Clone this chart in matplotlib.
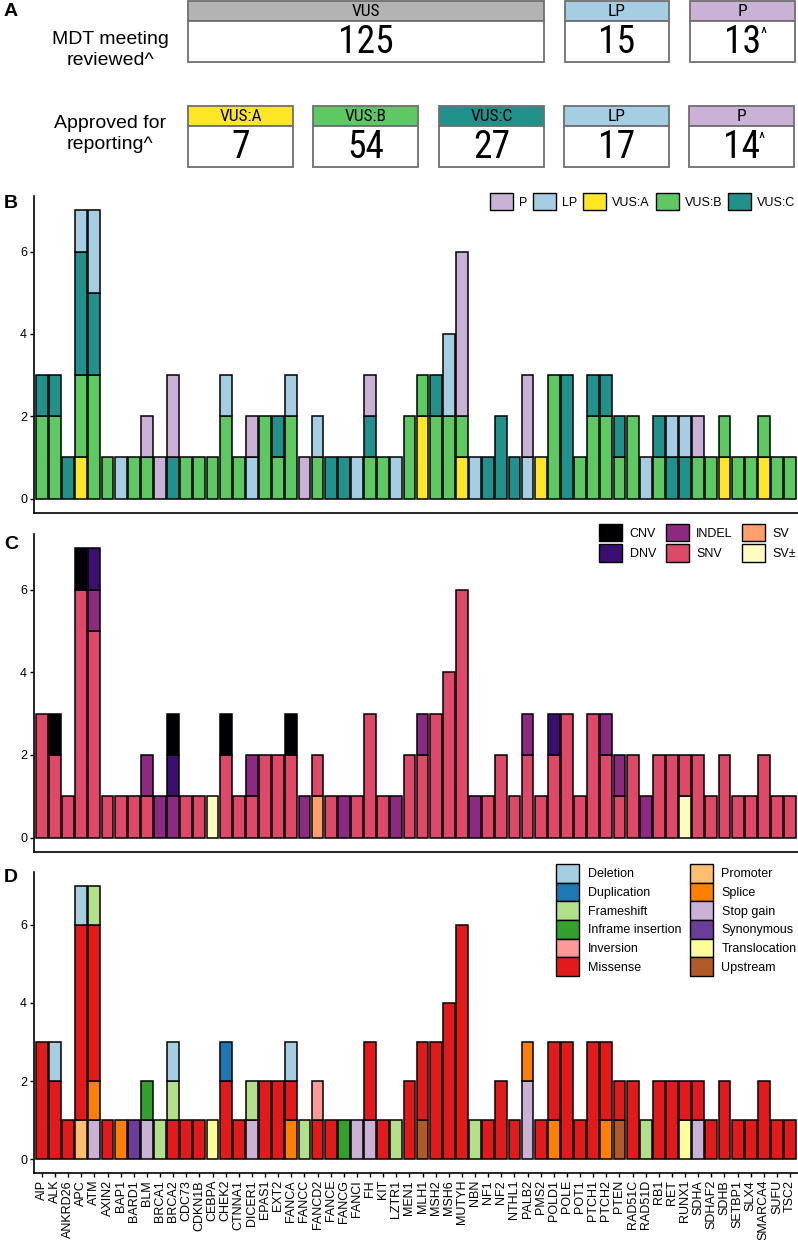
import matplotlib
matplotlib.use('Agg')
import matplotlib.pyplot as plt
from matplotlib.patches import Rectangle, Patch
from matplotlib import font_manager
import numpy as np

# ---------------- data ----------------
genes = ['AIP', 'ALK', 'ANKRD26', 'APC', 'ATM', 'AXIN2', 'BAP1', 'BARD1', 'BLM', 'BRCA1',
         'BRCA2', 'CDC73', 'CDKN1B', 'CEBPA', 'CHEK2', 'CTNNA1', 'DICER1', 'EPAS1', 'EXT2', 'FANCA',
         'FANCC', 'FANCD2', 'FANCE', 'FANCG', 'FANCI', 'FH', 'KIT', 'LZTR1', 'MEN1', 'MLH1',
         'MSH2', 'MSH6', 'MUTYH', 'NBN', 'NF1', 'NF2', 'NTHL1', 'PALB2', 'PMS2', 'POLD1',
         'POLE', 'POT1', 'PTCH1', 'PTCH2', 'PTEN', 'RAD51C', 'RAD51D', 'RB1', 'RET', 'RUNX1',
         'SDHA', 'SDHAF2', 'SDHB', 'SETBP1', 'SLX4', 'SMARCA4', 'SUFU', 'TSC2']

# Panel A
mdt_labels = ['VUS', 'LP', 'P']
mdt_counts = [125, 15, 13]
mdt_caret = [False, False, True]
rep_labels = ['VUS:A', 'VUS:B', 'VUS:C', 'LP', 'P']
rep_counts = [7, 54, 27, 17, 14]
rep_caret = [False, False, False, False, True]

# Panel B (classification)
b_vus_a = [0,0,0,1,0, 0,0,0,0,0, 0,0,0,0,0, 0,0,0,0,0, 0,0,0,0,0, 0,0,0,0,2,
           0,0,1,0,0, 0,0,0,1,0, 0,0,0,0,0, 0,0,0,0,0, 0,0,1,0,0, 1,0,0]
b_vus_b = [2,2,0,2,3, 1,0,1,1,0, 0,1,1,1,2, 1,0,2,1,2, 0,1,0,0,0, 1,1,0,2,1,
           2,2,1,0,0, 0,0,0,0,3, 0,1,2,2,1, 2,0,1,0,0, 1,1,1,1,1, 1,1,1]
b_vus_c = [1,1,1,3,2, 0,0,0,0,0, 1,0,0,0,0, 0,0,0,1,0, 0,0,1,1,0, 1,0,0,0,0,
           1,0,0,0,1, 2,1,0,0,0, 3,0,1,1,1, 0,0,1,1,1, 0,0,0,0,0, 0,0,0]
b_lp    = [0,0,0,1,2, 0,1,0,0,0, 0,0,0,0,1, 0,1,0,0,1, 0,1,0,0,1, 0,0,1,0,0,
           0,2,0,1,0, 0,0,1,0,0, 0,0,0,0,0, 0,1,0,1,1, 0,0,0,0,0, 0,0,0]
b_p     = [0,0,0,0,0, 0,0,0,1,1, 2,0,0,0,0, 0,1,0,0,0, 1,0,0,0,0, 1,0,0,0,0,
           0,0,4,0,0, 0,0,2,0,0, 0,0,0,0,0, 0,0,0,0,0, 1,0,0,0,0, 0,0,0]

# Panel C (variant type)
c_svpm  = [0,0,0,0,0, 0,0,0,0,0, 0,0,0,1,0, 0,0,0,0,0, 0,0,0,0,0, 0,0,0,0,0,
           0,0,0,0,0, 0,0,0,0,0, 0,0,0,0,0, 0,0,0,0,1, 0,0,0,0,0, 0,0,0]
c_sv    = [0,0,0,0,0, 0,0,0,0,0, 0,0,0,0,0, 0,0,0,0,0, 0,1,0,0,0, 0,0,0,0,0,
           0,0,0,0,0, 0,0,0,0,0, 0,0,0,0,0, 0,0,0,0,0, 0,0,0,0,0, 0,0,0]
c_snv   = [3,2,1,6,5, 1,1,1,1,0, 0,1,1,0,2, 1,1,2,2,2, 0,1,1,0,1, 3,1,0,2,2,
           3,4,6,0,1, 2,1,2,1,2, 3,1,3,2,1, 2,0,2,2,1, 2,1,2,1,1, 2,1,1]
c_indel = [0,0,0,0,1, 0,0,0,1,1, 1,0,0,0,0, 0,1,0,0,0, 1,0,0,1,0, 0,0,1,0,1,
           0,0,0,1,0, 0,0,1,0,0, 0,0,0,1,1, 0,1,0,0,0, 0,0,0,0,0, 0,0,0]
c_dnv   = [0,0,0,0,1, 0,0,0,0,0, 1,0,0,0,0, 0,0,0,0,0, 0,0,0,0,0, 0,0,0,0,0,
           0,0,0,0,0, 0,0,0,0,1, 0,0,0,0,0, 0,0,0,0,0, 0,0,0,0,0, 0,0,0]
c_cnv   = [0,1,0,1,0, 0,0,0,0,0, 1,0,0,0,1, 0,0,0,0,1, 0,0,0,0,0, 0,0,0,0,0,
           0,0,0,0,0, 0,0,0,0,0, 0,0,0,0,0, 0,0,0,0,0, 0,0,0,0,0, 0,0,0]

# Panel D (consequence)
d_upstream   = [0,0,0,0,0, 0,0,0,0,0, 0,0,0,0,0, 0,0,0,0,0, 0,0,0,0,0, 0,0,0,0,1,
                0,0,0,0,0, 0,0,0,0,0, 0,0,0,0,1, 0,0,0,0,0, 0,0,0,0,0, 0,0,0]
d_transloc   = [0,0,0,0,0, 0,0,0,0,0, 0,0,0,1,0, 0,0,0,0,0, 0,0,0,0,0, 0,0,0,0,0,
                0,0,0,0,0, 0,0,0,0,0, 0,0,0,0,0, 0,0,0,0,1, 0,0,0,0,0, 0,0,0]
d_synonymous = [0,0,0,0,0, 0,0,1,0,0, 0,0,0,0,0, 0,0,0,0,0, 0,0,0,0,0, 0,0,0,0,0,
                0,0,0,0,0, 0,0,0,0,0, 0,0,0,0,0, 0,0,0,0,0, 0,0,0,0,0, 0,0,0]
d_stopgain   = [0,0,0,0,1, 0,0,0,1,0, 0,0,0,0,0, 0,1,0,0,0, 0,0,0,0,1, 1,0,0,0,0,
                0,0,0,0,0, 0,0,2,0,0, 0,0,0,0,0, 0,0,0,0,0, 1,0,0,0,0, 0,0,0]
d_splice     = [0,0,0,0,1, 0,1,0,0,0, 0,0,0,0,0, 0,0,0,0,1, 0,0,0,0,0, 0,0,0,0,0,
                0,0,0,0,0, 0,0,1,0,1, 0,0,0,1,0, 0,0,0,0,0, 0,0,0,0,0, 0,0,0]
d_promoter   = [0,0,0,1,0, 0,0,0,0,0, 0,0,0,0,0, 0,0,0,0,0, 0,0,0,0,0, 0,0,0,0,0,
                0,0,0,0,0, 0,0,0,0,0, 0,0,0,0,0, 0,0,0,0,0, 0,0,0,0,0, 0,0,0]
d_missense   = [3,2,1,5,4, 1,0,0,0,0, 1,1,1,0,2, 1,0,2,2,1, 0,1,1,0,0, 2,1,0,2,2,
                3,4,6,0,1, 2,1,0,1,2, 3,1,3,2,1, 2,0,2,2,1, 1,1,2,1,1, 2,1,1]
d_inversion  = [0,0,0,0,0, 0,0,0,0,0, 0,0,0,0,0, 0,0,0,0,0, 0,1,0,0,0, 0,0,0,0,0,
                0,0,0,0,0, 0,0,0,0,0, 0,0,0,0,0, 0,0,0,0,0, 0,0,0,0,0, 0,0,0]
d_inframe    = [0,0,0,0,0, 0,0,0,1,0, 0,0,0,0,0, 0,0,0,0,0, 0,0,0,1,0, 0,0,0,0,0,
                0,0,0,0,0, 0,0,0,0,0, 0,0,0,0,0, 0,0,0,0,0, 0,0,0,0,0, 0,0,0]
d_frameshift = [0,0,0,0,1, 0,0,0,0,1, 1,0,0,0,0, 0,1,0,0,0, 1,0,0,0,0, 0,0,1,0,0,
                0,0,0,1,0, 0,0,0,0,0, 0,0,0,0,0, 0,1,0,0,0, 0,0,0,0,0, 0,0,0]
d_duplication = [0,0,0,0,0, 0,0,0,0,0, 0,0,0,0,1, 0,0,0,0,0, 0,0,0,0,0, 0,0,0,0,0,
                 0,0,0,0,0, 0,0,0,0,0, 0,0,0,0,0, 0,0,0,0,0, 0,0,0,0,0, 0,0,0]
d_deletion   = [0,1,0,1,0, 0,0,0,0,0, 1,0,0,0,0, 0,0,0,0,1, 0,0,0,0,0, 0,0,0,0,0,
                0,0,0,0,0, 0,0,0,0,0, 0,0,0,0,0, 0,0,0,0,0, 0,0,0,0,0, 0,0,0]

# ---------------- styling ----------------
def pick_font(names):
    for n in names:
        try:
            font_manager.findfont(font_manager.FontProperties(family=n), fallback_to_default=False)
            return n
        except Exception:
            pass
    return 'DejaVu Sans'

SANS = pick_font(['Liberation Sans', 'Arial', 'DejaVu Sans'])
NARROW = pick_font(['DejaVu Sans Condensed', 'Liberation Sans Narrow', 'Roboto Condensed', 'DejaVu Sans'])
plt.rcParams['font.family'] = [SANS, 'DejaVu Sans']

COL_CLASS = {'P': '#cab2d6', 'LP': '#a6cee3', 'VUS:A': '#fde725', 'VUS:B': '#5ec962',
             'VUS:C': '#21918c', 'VUS': '#b3b3b3'}
COL_TYPE = {'CNV': '#000004', 'DNV': '#3b0f70', 'INDEL': '#8c2981', 'SNV': '#de4968',
            'SV': '#fe9f6d', 'SV\u00b1': '#fcfdbf'}
COL_CONS = {'Deletion': '#a6cee3', 'Duplication': '#1f78b4', 'Frameshift': '#b2df8a',
            'Inframe insertion': '#33a02c', 'Inversion': '#fb9a99', 'Missense': '#e31a1c',
            'Promoter': '#fdbf6f', 'Splice': '#ff7f00', 'Stop gain': '#cab2d6',
            'Synonymous': '#6a3d9a', 'Translocation': '#ffff99', 'Upstream': '#b15928'}

W, H = 798, 1240
fig = plt.figure(figsize=(W / 100, H / 100), dpi=100)


def px_axes(x0, y0, x1, y1):
    return fig.add_axes([x0 / W, 1 - y1 / H, (x1 - x0) / W, (y1 - y0) / H])


# ---------------- Panel A ----------------
axA = px_axes(0, 0, W, 190)
axA.set_xlim(0, W)
axA.set_ylim(190, 0)
axA.axis('off')


def draw_box(x0, x1, yh0, yh1, yb1, label, count, caret):
    axA.add_patch(Rectangle((x0, yh0), x1 - x0, yh1 - yh0, facecolor=COL_CLASS[label],
                            edgecolor='#6e6e6e', lw=1.3))
    axA.add_patch(Rectangle((x0, yh1), x1 - x0, yb1 - yh1, facecolor='white',
                            edgecolor='#6e6e6e', lw=1.3))
    axA.text((x0 + x1) / 2, (yh0 + yh1) / 2 + 0.5, label, ha='center', va='center',
             fontsize=12.5, family=NARROW)
    t = axA.text((x0 + x1) / 2, (yh1 + yb1) / 2 + 1, str(count), ha='center', va='center',
                 fontsize=27, family=NARROW)
    if caret:
        axA.annotate('^', xy=(0.97, 0.93), xycoords=t, ha='left', va='top',
                     fontsize=12, family=NARROW)


row1_x = [(188, 544), (565, 669), (690, 795)]
for (x0, x1), lab, cnt, car in zip(row1_x, mdt_labels, mdt_counts, mdt_caret):
    draw_box(x0, x1, 1, 21, 62, lab, cnt, car)

row2_x = [(188, 293), (313, 418), (439, 544), (564, 669), (689, 794)]
for (x0, x1), lab, cnt, car in zip(row2_x, rep_labels, rep_counts, rep_caret):
    draw_box(x0, x1, 106, 126, 167, lab, cnt, car)

axA.text(110, 50, 'MDT meeting\nreviewed^', ha='center', va='center', fontsize=14,
         linespacing=1.3)
axA.text(110, 134, 'Approved for\nreporting^', ha='center', va='center', fontsize=14,
         linespacing=1.3)

# panel letters
for letter, ypx in [('A', 11), ('B', 204), ('C', 545), ('D', 878)]:
    fig.text(4 / W, 1 - ypx / H, letter, ha='left', va='center', fontsize=14,
             fontweight='bold')

# ---------------- bar panels ----------------
x = np.arange(len(genes))


def stacked(ax, layers):
    bottom = np.zeros(len(genes))
    for name, vals, color in layers:
        v = np.asarray(vals, dtype=float)
        m = v > 0
        ax.bar(x[m], v[m], bottom=bottom[m], width=0.9, color=color,
               edgecolor='black', linewidth=1.1)
        bottom += v


def style(ax, show_x):
    ax.set_xlim(-0.6, len(genes) - 0.4)
    ax.set_ylim(-0.35, 7.35)
    ax.set_yticks([0, 2, 4, 6])
    for s in ['top', 'right']:
        ax.spines[s].set_visible(False)
    for s in ['left', 'bottom']:
        ax.spines[s].set_linewidth(1.2)
    ax.tick_params(axis='y', labelsize=9, length=3, width=1, pad=2)
    if show_x:
        ax.set_xticks(x)
        ax.set_xticklabels(genes, rotation=90, fontsize=9)
        ax.tick_params(axis='x', length=3, width=1, pad=2)
    else:
        ax.set_xticks([])


# Panel B
axB = px_axes(34, 196, 798, 513)
stacked(axB, [('VUS:A', b_vus_a, COL_CLASS['VUS:A']),
              ('VUS:B', b_vus_b, COL_CLASS['VUS:B']),
              ('VUS:C', b_vus_c, COL_CLASS['VUS:C']),
              ('LP', b_lp, COL_CLASS['LP']),
              ('P', b_p, COL_CLASS['P'])])
style(axB, False)
hB = [Patch(facecolor=COL_CLASS[k], edgecolor='black', lw=1.0, label=k)
      for k in ['P', 'LP', 'VUS:A', 'VUS:B', 'VUS:C']]
axB.legend(handles=hB, ncol=5, loc='upper left', bbox_to_anchor=((490 - 34) / 764, (513 - 193) / 317),
           frameon=False, fontsize=9, handlelength=1.84, handleheight=1.76,
           handletextpad=0.45, columnspacing=0.5, borderpad=0, borderaxespad=0)

# Panel C
axC = px_axes(34, 534, 798, 852)
stacked(axC, [('SV\u00b1', c_svpm, COL_TYPE['SV\u00b1']),
              ('SV', c_sv, COL_TYPE['SV']),
              ('SNV', c_snv, COL_TYPE['SNV']),
              ('INDEL', c_indel, COL_TYPE['INDEL']),
              ('DNV', c_dnv, COL_TYPE['DNV']),
              ('CNV', c_cnv, COL_TYPE['CNV'])])
style(axC, False)
hC = [Patch(facecolor=COL_TYPE[k], edgecolor='black', lw=1.0, label=k)
      for k in ['CNV', 'DNV', 'INDEL', 'SNV', 'SV', 'SV\u00b1']]
axC.legend(handles=hC, ncol=3, loc='upper left', bbox_to_anchor=((599 - 34) / 764, (852 - 524) / 318),
           frameon=False, fontsize=9, handlelength=1.84, handleheight=1.76,
           handletextpad=0.62, columnspacing=0.75, labelspacing=0.24,
           borderpad=0, borderaxespad=0)

# Panel D
axD = px_axes(34, 872, 798, 1173)
stacked(axD, [('Upstream', d_upstream, COL_CONS['Upstream']),
              ('Translocation', d_transloc, COL_CONS['Translocation']),
              ('Synonymous', d_synonymous, COL_CONS['Synonymous']),
              ('Stop gain', d_stopgain, COL_CONS['Stop gain']),
              ('Splice', d_splice, COL_CONS['Splice']),
              ('Promoter', d_promoter, COL_CONS['Promoter']),
              ('Missense', d_missense, COL_CONS['Missense']),
              ('Inversion', d_inversion, COL_CONS['Inversion']),
              ('Inframe insertion', d_inframe, COL_CONS['Inframe insertion']),
              ('Frameshift', d_frameshift, COL_CONS['Frameshift']),
              ('Duplication', d_duplication, COL_CONS['Duplication']),
              ('Deletion', d_deletion, COL_CONS['Deletion'])])
style(axD, True)
hD = [Patch(facecolor=COL_CONS[k], edgecolor='black', lw=1.0, label=k)
      for k in ['Deletion', 'Duplication', 'Frameshift', 'Inframe insertion', 'Inversion',
                'Missense', 'Promoter', 'Splice', 'Stop gain', 'Synonymous',
                'Translocation', 'Upstream']]
axD.legend(handles=hD, ncol=2, loc='upper left', bbox_to_anchor=((556 - 34) / 764, (1173 - 864) / 301),
           frameon=False, fontsize=9, handlelength=1.84, handleheight=1.92,
           handletextpad=0.72, columnspacing=0.64, labelspacing=0.0,
           borderpad=0, borderaxespad=0)

fig.savefig('out.png', dpi=100)
